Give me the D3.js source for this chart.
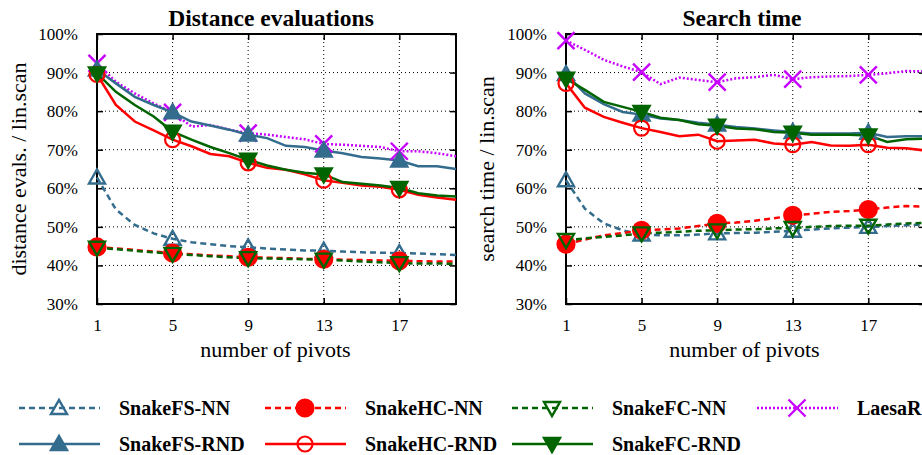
<!DOCTYPE html>
<meta charset="utf-8">
<script src="https://d3js.org/d3.v7.min.js"></script>
<style>
body { margin: 0; background: #fff; }
svg text { font-family: "Liberation Serif", "Times New Roman", serif; fill: #000; }
.title { font-size: 23.5px; font-weight: bold; }
.tick-label { font-size: 17px; }
.axis-label { font-size: 22px; }
.legend-label { font-size: 20px; font-weight: bold; }
</style>
<div id="my_dataviz"></div>
<script>

// number of pivots on the x axis
var pivots = [1, 2, 3, 4, 5, 6, 7, 8, 9, 10, 11, 12, 13, 14, 15, 16, 17, 18, 19, 20];
var xTicks = [1, 5, 9, 13, 17];
var yTicks = [30, 40, 50, 60, 70, 80, 90, 100];

// Distance evaluations (% of linear scan)
var distFSNN  = [62.8, 54.5, 50.5, 48.3, 46.9, 46.0, 45.5, 45.0, 44.7, 44.4, 44.1, 43.9, 43.8, 43.6, 43.4, 43.3, 43.2, 43.1, 42.9, 42.7];
var distHCNN  = [44.8, 44.4, 44.0, 43.6, 43.2, 42.9, 42.6, 42.4, 42.1, 42.0, 41.9, 41.7, 41.6, 41.5, 41.4, 41.3, 41.2, 41.1, 41.0, 41.0];
var distFCNN  = [44.6, 44.2, 43.8, 43.4, 43.0, 42.7, 42.4, 42.1, 41.9, 41.8, 41.7, 41.6, 41.5, 41.3, 41.0, 40.8, 40.6, 40.5, 40.5, 40.4];
var distLaesa = [92.4, 87.6, 84.6, 82.0, 79.7, 76.0, 76.4, 75.2, 74.3, 73.9, 73.3, 72.7, 71.5, 71.3, 71.0, 70.7, 69.6, 69.6, 69.1, 68.3];
var distFSRND = [90.8, 87.2, 83.7, 81.6, 79.7, 77.3, 76.3, 75.2, 73.9, 73.0, 71.0, 70.7, 69.8, 69.1, 68.1, 67.7, 67.2, 65.7, 65.7, 65.0];
var distHCRND = [89.5, 81.6, 77.3, 75.0, 72.6, 70.9, 68.9, 68.3, 66.6, 65.3, 64.8, 63.6, 62.1, 61.4, 60.7, 60.4, 59.6, 58.3, 57.6, 57.0];
var distFCRND = [89.8, 85.0, 81.6, 78.6, 74.7, 72.6, 70.7, 69.1, 67.4, 65.9, 64.8, 64.0, 63.6, 61.6, 61.2, 60.7, 60.1, 58.7, 58.1, 57.9];

// Search time (% of linear scan)
var timeFSNN  = [62.1, 54.7, 50.9, 49.1, 48.0, 47.8, 47.8, 48.0, 48.3, 48.4, 48.5, 48.7, 49.0, 49.3, 49.6, 49.8, 50.0, 50.2, 50.4, 50.6];
var timeHCNN  = [45.5, 46.7, 47.8, 48.4, 49.1, 49.3, 49.6, 50.2, 50.9, 51.1, 51.6, 52.2, 53.0, 53.4, 53.9, 54.1, 54.5, 55.0, 55.4, 55.2];
var timeFCNN  = [46.6, 47.0, 47.4, 47.8, 48.3, 48.5, 48.7, 49.0, 49.1, 49.3, 49.4, 49.6, 49.7, 50.0, 50.2, 50.3, 50.3, 50.6, 50.9, 51.0];
var timeLaesa = [98.3, 95.9, 93.3, 91.6, 90.1, 87.0, 88.7, 88.1, 87.5, 88.5, 88.8, 89.4, 88.3, 88.8, 89.0, 89.1, 89.4, 89.8, 90.4, 90.3];
var timeFSRND = [89.6, 84.6, 81.8, 79.8, 79.1, 78.1, 77.7, 77.0, 76.5, 75.9, 75.5, 75.0, 74.6, 74.2, 74.2, 74.2, 74.4, 73.3, 73.5, 73.5];
var timeHCRND = [87.2, 80.9, 78.5, 77.0, 75.6, 74.6, 73.5, 73.9, 72.2, 72.4, 72.6, 71.6, 71.3, 72.0, 71.1, 71.0, 71.3, 70.5, 70.4, 69.8];
var timeFCRND = [88.4, 85.5, 82.4, 81.1, 79.8, 78.3, 77.7, 76.6, 76.2, 75.5, 75.3, 74.6, 74.4, 73.9, 73.9, 73.9, 73.7, 72.0, 72.7, 72.9];

var seriesNames = ["SnakeFS-NN", "SnakeHC-NN", "SnakeFC-NN", "LaesaR", "SnakeFS-RND", "SnakeHC-RND", "SnakeFC-RND"];

var blue = "#346c8e", red = "#ff0000", green = "#006400", purple = "#c800ff";

// how each series is drawn
var styles = {
  "SnakeFS-NN":  {color: blue,   dash: "6,4", marker: "triUp",   filled: false},
  "SnakeHC-NN":  {color: red,    dash: "6,4", marker: "circle",  filled: true},
  "SnakeFC-NN":  {color: green,  dash: "6,4", marker: "triDown", filled: false},
  "LaesaR":      {color: purple, dash: "2,2", marker: "cross",   filled: false},
  "SnakeFS-RND": {color: blue,   dash: null,  marker: "triUp",   filled: true},
  "SnakeHC-RND": {color: red,    dash: null,  marker: "circle",  filled: false},
  "SnakeFC-RND": {color: green,  dash: null,  marker: "triDown", filled: true}
};

var panels = [
  {title: "Distance evaluations", ylabel: "distance evals. / lin.scan", left: 97, titleX: 271, ylabelX: 18,
   data: [distFSNN, distHCNN, distFCNN, distLaesa, distFSRND, distHCRND, distFCRND]},
  {title: "Search time", ylabel: "search time / lin.scan", left: 566, titleX: 742, ylabelX: 486,
   data: [timeFSNN, timeHCNN, timeFCNN, timeLaesa, timeFSRND, timeHCRND, timeFCRND]}
];

var W = 922, H = 455;
var plotTop = 34, plotBottom = 304, plotW = 359;

var svg = d3.select("#my_dataviz").append("svg")
  .attr("width", W)
  .attr("height", H);

function drawMarker(g, type, filled, color, cx, cy) {
  var fill = filled ? color : "none";
  if (type == "circle") {
    g.append("circle")
      .attr("cx", cx).attr("cy", cy)
      .attr("r", filled ? 8.5 : 7.5)
      .attr("fill", fill)
      .attr("stroke", color)
      .attr("stroke-width", 2.2);
  } else if (type == "triUp" || type == "triDown") {
    var s = type == "triUp" ? 1 : -1;
    var pts = [[cx - 8, cy + s * 6], [cx + 8, cy + s * 6], [cx, cy - s * 8]];
    g.append("path")
      .attr("d", "M" + pts.join("L") + "Z")
      .attr("fill", fill)
      .attr("stroke", color)
      .attr("stroke-width", 2.4)
      .attr("stroke-linejoin", "miter");
  } else if (type == "cross") {
    g.append("path")
      .attr("d", "M" + (cx - 8.5) + "," + (cy - 8.5) + "L" + (cx + 8.5) + "," + (cy + 8.5) +
                 "M" + (cx - 8.5) + "," + (cy + 8.5) + "L" + (cx + 8.5) + "," + (cy - 8.5))
      .attr("stroke", color)
      .attr("stroke-width", 2.4);
  }
}

panels.forEach(function(p) {
  var x = d3.scaleLinear().domain([1, 20]).range([p.left, p.left + plotW]);
  var y = d3.scaleLinear().domain([30, 100]).range([plotBottom, plotTop]);
  var g = svg.append("g");

  // grid
  g.append("g").selectAll("line")
    .data(yTicks.slice(1, -1))
    .enter().append("line")
      .attr("x1", x(1)).attr("x2", x(20))
      .attr("y1", function(d) { return y(d); }).attr("y2", function(d) { return y(d); })
      .attr("stroke", "#000").attr("stroke-width", 1).attr("stroke-dasharray", "1,3");
  g.append("g").selectAll("line")
    .data(xTicks.slice(1))
    .enter().append("line")
      .attr("x1", function(d) { return x(d); }).attr("x2", function(d) { return x(d); })
      .attr("y1", plotTop).attr("y2", plotBottom)
      .attr("stroke", "#000").attr("stroke-width", 1).attr("stroke-dasharray", "1,3");

  // axes (ticks on all four sides, pointing inward)
  g.append("g").attr("transform", "translate(" + x(1) + ",0)")
    .call(d3.axisLeft(y).tickValues(yTicks).tickSize(-6).tickPadding(19).tickFormat(function(d) { return d + "%"; }));
  g.append("g").attr("transform", "translate(" + x(20) + ",0)")
    .call(d3.axisRight(y).tickValues(yTicks).tickSize(-6).tickFormat(""));
  g.append("g").attr("transform", "translate(0," + plotBottom + ")")
    .call(d3.axisBottom(x).tickValues(xTicks).tickSize(-6).tickPadding(15));
  g.append("g").attr("transform", "translate(0," + plotTop + ")")
    .call(d3.axisTop(x).tickValues(xTicks).tickSize(-6).tickFormat(""));
  g.selectAll(".domain").remove();
  g.selectAll(".tick line").attr("stroke", "#000").attr("stroke-width", 1.5);
  g.selectAll(".tick text")
    .attr("class", "tick-label")
    .style("fill", "#000");

  // frame
  g.append("rect")
    .attr("x", x(1)).attr("y", plotTop)
    .attr("width", plotW).attr("height", plotBottom - plotTop)
    .attr("fill", "none").attr("stroke", "#000").attr("stroke-width", 2);

  // lines
  var line = d3.line()
    .x(function(d, i) { return x(pivots[i]); })
    .y(function(d) { return y(d); });

  seriesNames.forEach(function(name, si) {
    var st = styles[name];
    g.append("path")
      .datum(p.data[si])
      .attr("d", line)
      .attr("fill", "none")
      .attr("stroke", st.color)
      .attr("stroke-width", 2.5)
      .attr("stroke-dasharray", st.dash);
  });
  seriesNames.forEach(function(name, si) {
    var st = styles[name];
    var mg = g.append("g");
    xTicks.forEach(function(px) {
      drawMarker(mg, st.marker, st.filled, st.color, x(px), y(p.data[si][pivots.indexOf(px)]));
    });
  });

  // titles
  svg.append("text").attr("class", "title")
    .attr("x", p.titleX).attr("y", 26)
    .attr("text-anchor", "middle")
    .text(p.title);
  svg.append("text").attr("class", "axis-label")
    .attr("x", (x(1) + x(20)) / 2 - 1).attr("y", 357)
    .attr("text-anchor", "middle")
    .text("number of pivots");
  svg.append("text").attr("class", "axis-label")
    .attr("transform", "translate(" + p.ylabelX + "," + ((plotTop + plotBottom) / 2) + ") rotate(-90)")
    .attr("text-anchor", "middle")
    .attr("dy", "0.35em")
    .text(p.ylabel);
});

// legend
var legendPos = [
  {x: 19, y: 408}, {x: 265, y: 408}, {x: 512, y: 408}, {x: 757, y: 408},
  {x: 19, y: 444}, {x: 265, y: 444}, {x: 512, y: 444}
];
var legend = svg.append("g");
seriesNames.forEach(function(name, i) {
  var st = styles[name];
  var lp = legendPos[i];
  legend.append("line")
    .attr("x1", lp.x).attr("x2", lp.x + 81)
    .attr("y1", lp.y).attr("y2", lp.y)
    .attr("stroke", st.color).attr("stroke-width", 2.5)
    .attr("stroke-dasharray", st.dash);
  drawMarker(legend, st.marker, st.filled, st.color, lp.x + 40, lp.y);
  legend.append("text").attr("class", "legend-label")
    .attr("x", lp.x + 100).attr("y", lp.y)
    .attr("dy", "0.35em")
    .text(name);
});
</script>
